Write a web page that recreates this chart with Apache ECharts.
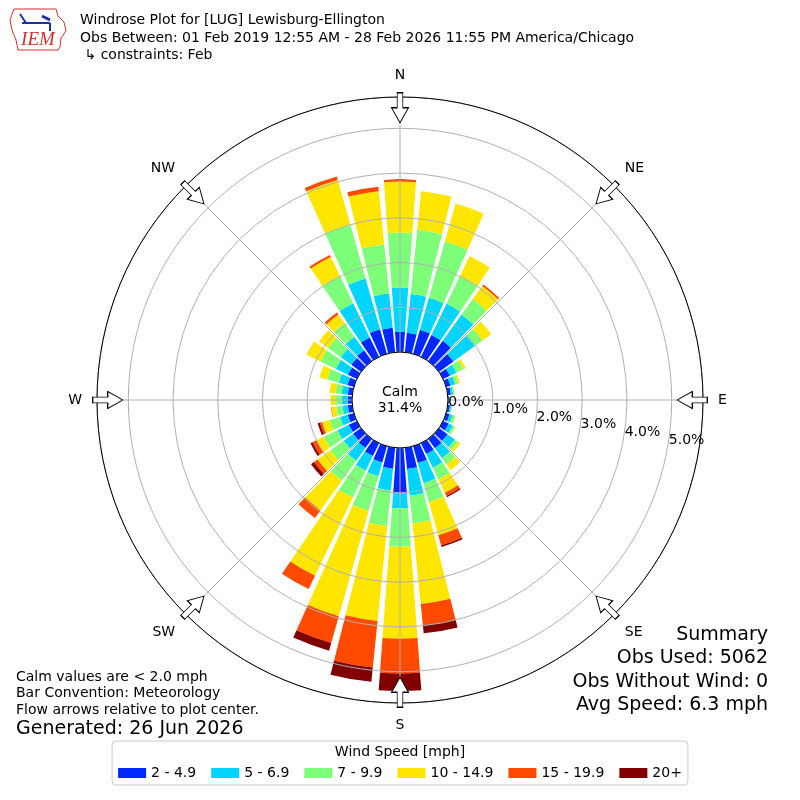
<!DOCTYPE html>
<html>
<head>
<meta charset="utf-8">
<title>Windrose Plot for [LUG] Lewisburg-Ellington</title>
<script src="https://cdn.jsdelivr.net/npm/echarts@6/dist/echarts.min.js"></script>
<style>
  html, body { margin: 0; padding: 0; background: #fff; }
  #chart { width: 800px; height: 800px; }
</style>
</head>
<body>
<div id="chart"></div>
<script>
// direction bins (deg from north, bin centre)
const directions = [0, 10, 20, 30, 40, 50, 60, 70, 80, 90, 100, 110, 120, 130, 140, 150, 160, 170,
                    180, 190, 200, 210, 220, 230, 240, 250, 260, 270, 280, 290, 300, 310, 320, 330, 340, 350];
const compassAngles = [0, 45, 90, 135, 180, 225, 270, 315];
const compassLabels = ['N', 'NE', 'E', 'SE', 'S', 'SW', 'W', 'NW'];
const radiusTicks = [0, 1, 2, 3, 4, 5];

const speedBins = ['2 - 4.9', '5 - 6.9', '7 - 9.9', '10 - 14.9', '15 - 19.9', '20+'];
const binColors = ['#0028ff', '#00d4ff', '#7dff7a', '#ffe600', '#ff4a00', '#800000'];

// percent of obs per direction, one list per speed bin
const speed2to5 = [0.45, 0.44, 0.56, 0.54, 0.56, 0.40, 0.17, 0.10, 0.07, 0.03, 0.05, 0.08, 0.14, 0.24, 0.26, 0.27, 0.39, 0.48,
                   1.01, 0.47, 0.38, 0.32, 0.25, 0.22, 0.20, 0.14, 0.10, 0.10, 0.10, 0.15, 0.22, 0.27, 0.30, 0.48, 0.57, 0.55];
const speed5to7 = [0.99, 0.87, 0.74, 0.78, 0.72, 0.59, 0.16, 0.11, 0.05, 0.01, 0.03, 0.07, 0.10, 0.20, 0.27, 0.34, 0.47, 0.60,
                   0.34, 0.49, 0.32, 0.36, 0.35, 0.26, 0.28, 0.18, 0.12, 0.13, 0.14, 0.20, 0.30, 0.29, 0.37, 0.85, 1.18, 0.77];
const speed7to10 = [1.23, 1.44, 1.31, 0.68, 0.43, 0.21, 0.17, 0.07, 0.03, 0.01, 0.02, 0.06, 0.05, 0.08, 0.17, 0.29, 0.44, 0.62,
                    0.86, 0.80, 0.80, 0.67, 0.55, 0.37, 0.34, 0.24, 0.14, 0.15, 0.14, 0.27, 0.38, 0.35, 0.38, 0.67, 1.25, 1.10];
const speed10to15 = [1.14, 0.87, 0.88, 0.50, 0.36, 0.24, 0.06, 0.04, 0.01, 0, 0, 0.01, 0.01, 0.07, 0.16, 0.33, 0.77, 1.81,
                     2.05, 2.13, 2.45, 1.94, 0.82, 0.35, 0.18, 0.18, 0.11, 0.10, 0.13, 0.18, 0.35, 0.25, 0.23, 0.48, 1.04, 1.20];
const speed15to20 = [0.05, 0, 0, 0, 0.04, 0, 0, 0, 0, 0, 0, 0, 0, 0, 0, 0.08, 0.23, 0.48,
                     0.78, 1.05, 0.62, 0.33, 0.21, 0.10, 0.10, 0.05, 0.01, 0, 0, 0, 0, 0, 0.06, 0.05, 0.08, 0.10];
const speed20up = [0, 0, 0, 0, 0, 0, 0, 0, 0, 0, 0, 0, 0, 0, 0, 0.03, 0.04, 0.18,
                   0.39, 0.32, 0.18, 0, 0, 0.08, 0.05, 0.05, 0, 0, 0, 0, 0, 0, 0, 0, 0, 0];

const calmPct = 31.4;
const obsUsed = 5062;
const obsWithoutWind = 0;
const avgSpeed = 6.3;

const rMax = 5.7;          // percent at the outer circle
const arrowRadius = 5.46;  // flow arrows sit just inside the outer circle
const polarRadius = [48, 303];
const FONT = 'DejaVu Sans';

const arrowPath = 'path://M5.7,0 L11.3,0 L11.3,15 L17,15 L8.5,30 L0,15 L5.7,15 Z';

const chart = echarts.init(document.getElementById('chart'));

function txt(x, y, text, size, align) {
    return {
        type: 'text', x: x, y: y, z: 10,
        style: {
            text: text, fill: '#000', font: size + 'px "' + FONT + '"',
            textAlign: align || 'left', align: align || 'left',
            textVerticalAlign: 'middle', verticalAlign: 'middle'
        }
    };
}

const speedLists = [speed2to5, speed5to7, speed7to10, speed10to15, speed15to20, speed20up];
const barSeries = speedLists.map((vals, i) => ({
    name: speedBins[i],
    type: 'bar',
    coordinateSystem: 'polar',
    polarIndex: 0,
    stack: 'wind',
    barCategoryGap: '16%',
    data: vals,
    itemStyle: { color: binColors[i] },
    silent: true
}));

const option = {
    animation: false,
    textStyle: { fontFamily: FONT },
    legend: {
        data: speedBins,
        left: 'center',
        top: 741,
        icon: 'rect',
        itemWidth: 28,
        itemHeight: 10,
        itemGap: 15,
        selectedMode: false,
        textStyle: { fontSize: 14, color: '#000', fontFamily: FONT },
        borderColor: '#cccccc',
        borderWidth: 1,
        borderRadius: 4,
        padding: [25, 6, 5, 6]
    },
    polar: [
        { center: ['50%', '50%'], radius: polarRadius },
        { center: ['50%', '50%'], radius: polarRadius },
        { center: ['50%', '50%'], radius: polarRadius }
    ],
    angleAxis: [
        {
            polarIndex: 0, type: 'category', data: directions.map(String),
            startAngle: 95, clockwise: true, boundaryGap: true,
            axisLine: { show: false }, axisTick: { show: false },
            axisLabel: { show: false }, splitLine: { show: false }
        },
        {
            polarIndex: 1, type: 'value', min: 0, max: 360, interval: 45,
            startAngle: 90, clockwise: true, z: 4,
            axisLine: { lineStyle: { color: '#000', width: 1 } },
            axisTick: { show: false },
            axisLabel: {
                margin: 15,
                fontSize: 14, color: '#000', fontFamily: FONT,
                formatter: v => {
                    const i = compassAngles.indexOf(v);
                    return i < 0 ? '' : compassLabels[i];
                }
            },
            splitLine: { lineStyle: { color: '#b0b0b0', width: 1 } }
        },
        { polarIndex: 2, type: 'value', min: 0, max: 360, startAngle: -9.7, show: false }
    ],
    radiusAxis: [
        { polarIndex: 0, type: 'value', min: 0, max: rMax, show: false },
        {
            polarIndex: 1, type: 'value', min: 0, max: rMax, interval: 1, z: 3,
            axisLine: { show: false }, axisTick: { show: false }, axisLabel: { show: false },
            splitLine: { lineStyle: { color: '#b0b0b0', width: 1 } }
        },
        {
            polarIndex: 2, type: 'value', min: 0, max: rMax, interval: 1, z: 5,
            axisLine: { show: false }, axisTick: { show: false }, splitLine: { show: false },
            axisLabel: {
                margin: 6, align: 'left', verticalAlign: 'middle',
                fontSize: 14, color: '#000', fontFamily: FONT,
                formatter: v => radiusTicks.indexOf(v) < 0 ? '' : v.toFixed(1) + '%'
            }
        }
    ],
    series: barSeries.concat([{
        type: 'scatter',
        coordinateSystem: 'polar',
        polarIndex: 1,
        z: 6,
        symbol: arrowPath,
        symbolSize: [17, 30],
        data: compassAngles.map(a => ({ value: [arrowRadius, a], symbolRotate: -a })),
        itemStyle: { color: '#ffffff', borderColor: '#000', borderWidth: 1, opacity: 1 },
        silent: true
    }]),
    graphic: [
        // IEM logo (rough)
        {
            type: 'polyline', z: 10,
            shape: { points: [[14, 9], [56, 9], [58, 16], [64, 22], [66, 31], [61, 38], [60, 47], [58, 50], [18, 50], [16, 40], [12, 30], [10, 20], [14, 9]] },
            style: { stroke: '#d03030', lineWidth: 1, fill: null }
        },
        { type: 'line', z: 10, shape: { x1: 22, y1: 23, x2: 50, y2: 23 }, style: { stroke: '#1c2fa8', lineWidth: 2 } },
        { type: 'line', z: 10, shape: { x1: 20, y1: 14, x2: 26, y2: 23 }, style: { stroke: '#1c2fa8', lineWidth: 2 } },
        { type: 'line', z: 10, shape: { x1: 42, y1: 16, x2: 50, y2: 20 }, style: { stroke: '#1c2fa8', lineWidth: 3 } },
        { type: 'line', z: 10, shape: { x1: 50, y1: 23, x2: 50, y2: 31 }, style: { stroke: '#1c2fa8', lineWidth: 2 } },
        {
            type: 'text', x: 38, y: 40, z: 10,
            style: { text: 'IEM', fill: '#d03030', font: 'italic 19px "Liberation Serif"', textAlign: 'center', align: 'center', textVerticalAlign: 'middle', verticalAlign: 'middle' }
        },
        txt(80, 20, 'Windrose Plot for [LUG] Lewisburg-Ellington', 14),
        txt(80, 38, 'Obs Between: 01 Feb 2019 12:55 AM - 28 Feb 2026 11:55 PM America/Chicago', 14),
        txt(80, 55, ' \u21b3 constraints: Feb', 14),
        txt(400, 392, 'Calm', 14, 'center'),
        txt(400, 408, calmPct.toFixed(1) + '%', 14, 'center'),
        txt(16, 677, 'Calm values are < 2.0 mph', 14),
        txt(16, 693, 'Bar Convention: Meteorology', 14),
        txt(16, 710, 'Flow arrows relative to plot center.', 14),
        txt(16, 729, 'Generated: 26 Jun 2026', 19),
        txt(768, 635, 'Summary', 19, 'right'),
        txt(768, 658, 'Obs Used: ' + obsUsed, 19, 'right'),
        txt(768, 682, 'Obs Without Wind: ' + obsWithoutWind, 19, 'right'),
        txt(768, 705, 'Avg Speed: ' + avgSpeed.toFixed(1) + ' mph', 19, 'right'),
        txt(400, 752, 'Wind Speed [mph]', 14, 'center')
    ]
};

chart.setOption(option);
</script>
</body>
</html>
